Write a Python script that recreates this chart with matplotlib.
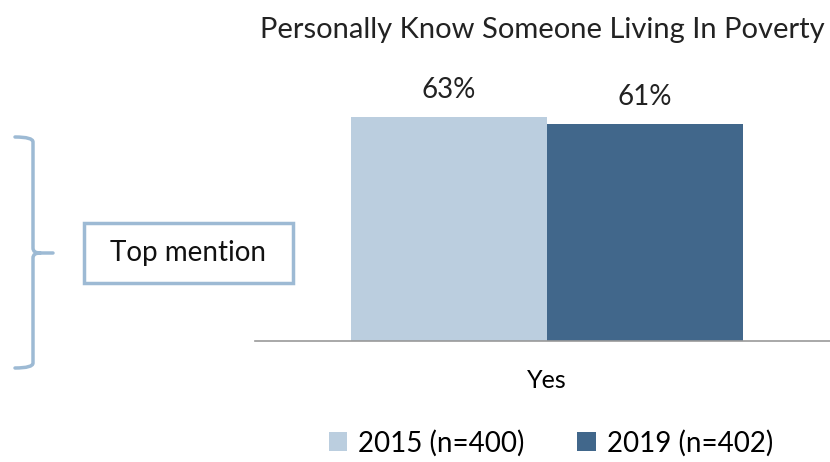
import matplotlib
matplotlib.use("Agg")
import matplotlib.pyplot as plt
from matplotlib.path import Path
from matplotlib.patches import PathPatch, Rectangle

categories = ["Yes"]
series_names = ["2015 (n=400)", "2019 (n=402)"]
values_2015 = [63]
values_2019 = [61]
colors = ["#BBCEDF", "#41678B"]
title = "Personally Know Someone Living In Poverty"

plt.rcParams['font.family'] = ['Lato', 'DejaVu Sans']

W, H = 830, 462
fig = plt.figure(figsize=(W/100, H/100), dpi=100)

def fx(px): return px / W
def fy(py): return 1 - py / H

ax = fig.add_axes([fx(255), fy(341), fx(830) - fx(255), fy(60) - fy(341)])
ymax = 281 / (224 / 63)
ax.set_ylim(0, ymax)
a = -(547 - 255) / 575
ax.set_xlim(a, a + 1)

bw = 196 / 575
x0 = 0
for i, (vals, c) in enumerate(zip([values_2015, values_2019], colors)):
    off = (i - 0.5) * bw
    bars = ax.bar([x0 + off], vals, width=bw, color=c, label=series_names[i])
    for b, v in zip(bars, vals):
        ax.text(b.get_x() + b.get_width() / 2, v + 4, f"{v}%", ha="center", va="bottom",
                fontsize=20, color="#222222")

for s in ["top", "right", "left"]:
    ax.spines[s].set_visible(False)
ax.spines["bottom"].set_color("#999999")
ax.spines["bottom"].set_linewidth(1.2)
ax.set_yticks([])
ax.set_xticks([0])
ax.set_xticklabels(categories, fontsize=18)
ax.tick_params(axis="x", length=0, pad=20)

fig.text(fx(542), fy(30), title, ha="center", va="center", fontsize=21, color="#222222")

# bracket
bc = "#9DBAD4"
verts = [(fx(15), fy(137)), (fx(33), fy(137)), (fx(33), fy(142)),
         (fx(33), fy(248)),
         (fx(33), fy(253)), (fx(40), fy(253)),
         (fx(53), fy(253)), (fx(40), fy(253)),
         (fx(33), fy(253)), (fx(33), fy(258)),
         (fx(33), fy(363)), (fx(33), fy(368)), (fx(15), fy(368))]
codes = [Path.MOVETO, Path.CURVE3, Path.CURVE3,
         Path.LINETO,
         Path.CURVE3, Path.CURVE3,
         Path.LINETO, Path.MOVETO,
         Path.CURVE3, Path.CURVE3,
         Path.LINETO, Path.CURVE3, Path.CURVE3]
fig.add_artist(PathPatch(Path(verts, codes), transform=fig.transFigure,
                         fill=False, edgecolor=bc, linewidth=2.5, capstyle="round"))

fig.add_artist(Rectangle((fx(84), fy(283)), fx(293) - fx(84), fy(223) - fy(283),
                         transform=fig.transFigure, fill=False, edgecolor=bc, linewidth=2.5))
fig.text(fx(188), fy(253), "Top mention", ha="center", va="center", fontsize=20, color="#111111")

leg = fig.legend(loc="center", bbox_to_anchor=(fx(551), fy(443)), ncol=2, frameon=False,
                 fontsize=20, handlelength=0.65, handleheight=0.65, handletextpad=0.4,
                 columnspacing=1.9)

fig.savefig("out.png", dpi=100)
